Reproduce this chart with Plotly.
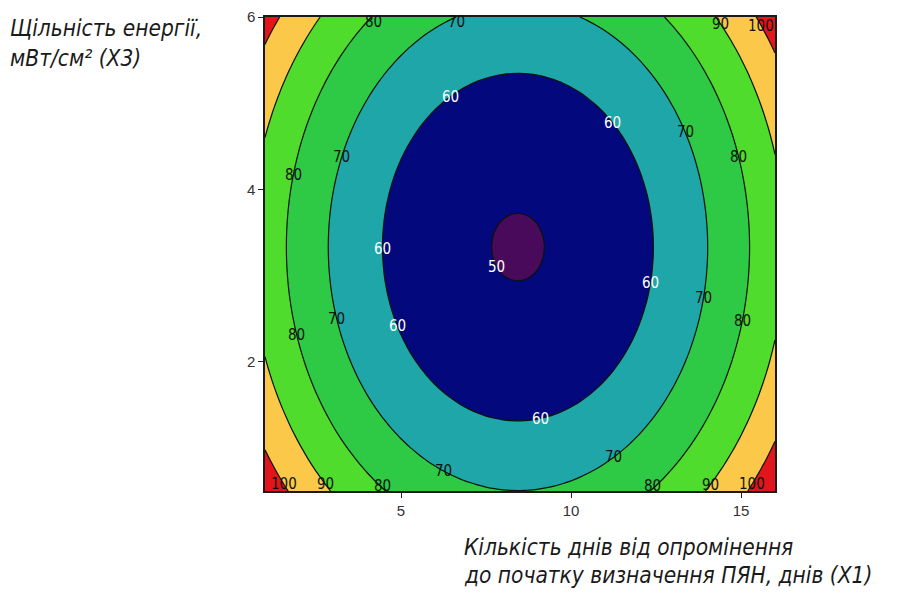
import numpy as np
import plotly.graph_objects as go

# ---- data (second-order response surface) ----
X1_RANGE = [1, 16]          # days from irradiation (X1)
X3_RANGE = [0.5, 6]         # energy density, mW/cm2 (X3)
Y_MIN = 49.6                # response at optimum
X1_OPT = 8.44               # optimum X1
X3_OPT = 3.33               # optimum X3
B11 = 0.655                 # quadratic coefficient for X1
B33 = 2.556                 # quadratic coefficient for X3
LEVELS = [50, 60, 70, 80, 90, 100]
BAND_COLORS = ["#4a0a5c", "#03097c", "#1fa6a8", "#2fca45", "#4fdc2c", "#fbc84a", "#e2151c"]
X_TICKS = [5, 10, 15]
Y_TICKS = [2, 4, 6]
X_TITLE_LINES = ["Кількість днів від опромінення",
                 "до початку визначення ПЯН, днів (X1)"]
Y_TITLE_LINES = ["Щільність енергії,",
                 "мВт/см² (X3)"]

# contour-label levels and approximate spots where they sit in the picture
LABEL_LEVELS = [60, 60, 60, 60, 60, 60, 50,
                70, 70, 70, 70, 70, 70, 70,
                80, 80, 80, 80, 80, 80, 80,
                90, 90, 90, 100, 100, 100]
LABEL_X1 = [6.45, 11.22, 4.48, 4.98, 12.34, 9.1, 7.9,
            6.63, 3.28, 3.16, 13.4, 13.96, 6.24, 11.25,
            1.81, 1.96, 15.75, 15.8, 4.46, 12.4, 4.2,
            14.3, 2.95, 13.95, 1.8, 15.6, 15.48]
LABEL_X3 = [5.07, 4.79, 3.31, 2.41, 2.91, 1.41, 3.1,
            5.97, 4.37, 2.5, 4.66, 2.74, 0.82, 0.98,
            4.17, 2.31, 4.37, 2.47, 0.6, 0.61, 5.97,
            5.92, 0.58, 0.57, 0.58, 5.9, 0.58]

x = np.linspace(X1_RANGE[0], X1_RANGE[1], 61)
y = np.linspace(X3_RANGE[0], X3_RANGE[1], 45)
XX, YY = np.meshgrid(x, y)
Z = Y_MIN + B11 * (XX - X1_OPT) ** 2 + B33 * (YY - X3_OPT) ** 2

n = len(BAND_COLORS)
cscale = []
for i, c in enumerate(BAND_COLORS):
    cscale.append([i / n, c])
    cscale.append([(i + 1) / n, c])

step = LEVELS[1] - LEVELS[0]
fig = go.Figure()
fig.add_trace(go.Contour(
    x=x, y=y, z=Z, colorscale=cscale, showscale=False,
    contours=dict(start=LEVELS[0], end=LEVELS[-1], size=step,
                  coloring="fill", showlines=True),
    line=dict(color="#0b120b", width=1.2), hoverinfo="skip"))


def on_contour(level, xr, yr):
    """Move a label spot onto the model's contour line of that level."""
    rx = np.sqrt((level - Y_MIN) / B11)
    ry = np.sqrt((level - Y_MIN) / B33)
    u, v = (xr - X1_OPT) / rx, (yr - X3_OPT) / ry
    if abs(v) > abs(u):
        u = np.clip(u, -1, 1)
        yy = X3_OPT + np.sign(v) * ry * np.sqrt(max(0.0, 1 - u ** 2))
        return xr, float(np.clip(yy, X3_RANGE[0] + 0.06, X3_RANGE[1] - 0.06))
    v = np.clip(v, -1, 1)
    xx = X1_OPT + np.sign(u) * rx * np.sqrt(max(0.0, 1 - v ** 2))
    return float(np.clip(xx, X1_RANGE[0] + 0.3, X1_RANGE[1] - 0.3)), yr


label_font = "Liberation Sans Narrow, DejaVu Sans Condensed, Liberation Sans"
annotations = []
for lv, xr, yr in zip(LABEL_LEVELS, LABEL_X1, LABEL_X3):
    lx, ly = on_contour(lv, xr, yr)
    annotations.append(dict(
        x=lx, y=ly, xref="x", yref="y", text=str(lv), showarrow=False,
        font=dict(family=label_font, size=15,
                  color="white" if lv <= 60 else "#0b120b")))

OFF = 8  # page margin of the html body
L, R, T, B = 265 - OFF, 116, 17 - OFF, 100
W, H = 899 - 2 * OFF, 599 - 2 * OFF
pw, ph = W - L - R, H - T - B


def px_x(p):
    return (p - OFF - L) / pw


def px_y(p):
    return (H - B - (p - OFF)) / ph


ytitle_font = dict(family="DejaVu Sans Condensed, DejaVu Sans", size=22.5,
                   color="#1a1a1a", style="italic")
xtitle_font = dict(family="DejaVu Sans Condensed, DejaVu Sans", size=22.5,
                   color="#1a1a1a", style="italic")
for txt, cy in zip(Y_TITLE_LINES, [28, 58]):
    annotations.append(dict(text=txt, xref="paper", yref="paper",
                            x=px_x(8), y=px_y(cy), xanchor="left", yanchor="middle",
                            align="left", showarrow=False, font=ytitle_font))
for txt, cy in zip(X_TITLE_LINES, [547, 575]):
    annotations.append(dict(text=txt, xref="paper", yref="paper",
                            x=px_x(462), y=px_y(cy), xanchor="left", yanchor="middle",
                            align="left", showarrow=False, font=xtitle_font))

axis_common = dict(ticks="outside", ticklen=5, tickcolor="#222", showline=True,
                   mirror=True, linecolor="#1a1a1a", linewidth=1.5, showgrid=False,
                   zeroline=False, automargin=False,
                   tickfont=dict(family="Liberation Sans", size=15, color="#333"))
fig.update_layout(
    width=W, height=H, margin=dict(l=L, r=R, t=T, b=B, autoexpand=False),
    paper_bgcolor="white", plot_bgcolor="white", showlegend=False,
    xaxis=dict(range=X1_RANGE, tickvals=X_TICKS, **axis_common),
    yaxis=dict(range=X3_RANGE, tickvals=Y_TICKS, **axis_common),
    annotations=annotations,
)
fig.write_html("out.html")
